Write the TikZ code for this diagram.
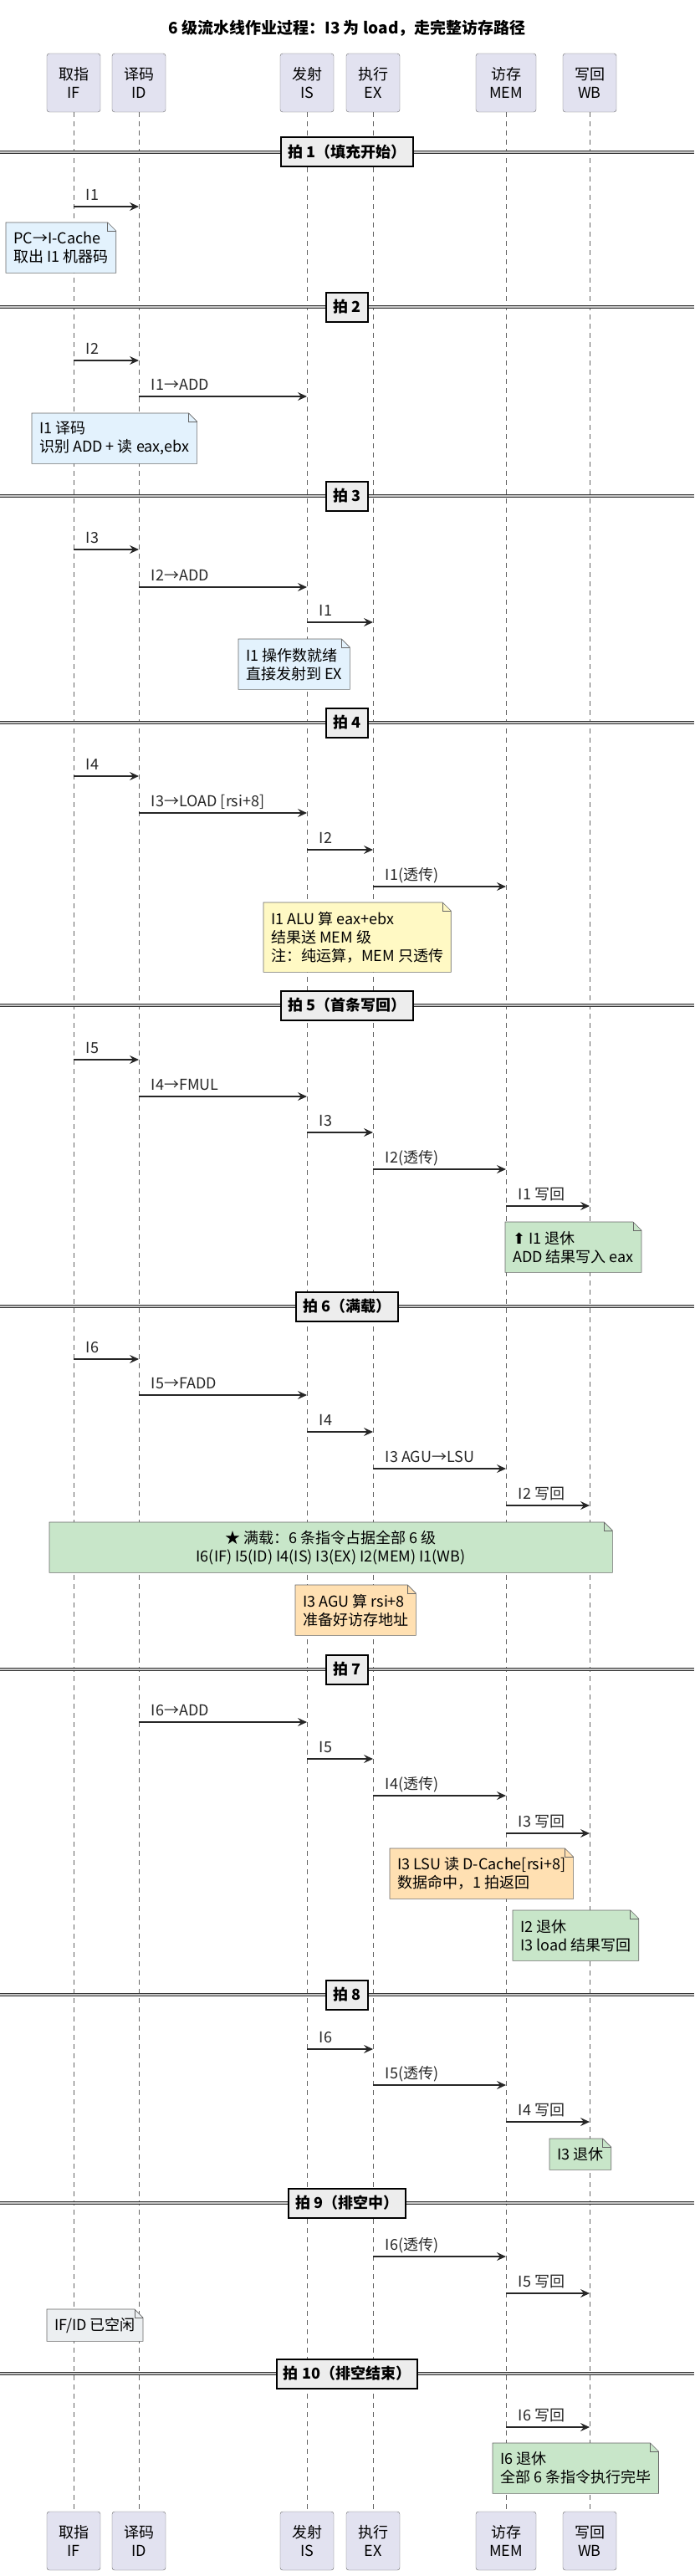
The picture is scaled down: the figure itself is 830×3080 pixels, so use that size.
\documentclass[tikz,border=0pt]{standalone}
\usepackage{fontspec}
\setmainfont{Noto Sans CJK SC}
\newfontfamily\symfont{DejaVu Sans}
\usetikzlibrary{arrows.meta, positioning, backgrounds}
\pgfdeclarelayer{lanes}
\pgfsetlayers{lanes,background,main}

\definecolor{stagefill}{HTML}{E2E2F0}
\definecolor{noteblue}{HTML}{E3F2FD}
\definecolor{noteyellow}{HTML}{FFF9C4}
\definecolor{notegreen}{HTML}{C8E6C9}
\definecolor{noteorange}{HTML}{FFE0B2}
\definecolor{notegray}{HTML}{ECEFF1}

\newcommand\lblfont{\fontsize{18}{22}\selectfont}

% message from one stage to the next
\newcommand\msg[4]{\draw[msg] (#1.south |- 0,#3) -- (#2.south |- 0,#3) node[msglabel, pos=0] {#4};}
% beat divider
\newcommand\beat[3]{\draw[divider] (0,#1) -- (830,#1); \node[beatbox] (#2) at (415,#1) {#3};}
% folded outline behind a note
\newcommand\foldnote[2]{%
  \begin{scope}[on background layer]
    \draw[notepen, fill=#2] (#1.south west) -- (#1.north west) -- ([xshift=-10pt]#1.north east)
      -- ([yshift=-10pt]#1.north east) -- (#1.south east) -- cycle;
    \draw[notepen] ([xshift=-10pt]#1.north east) |- ([yshift=-10pt]#1.north east);
  \end{scope}}

\begin{document}
\begin{tikzpicture}[
    x=1pt, y=-1pt,
    % Node styles
    stage/.style={
        rectangle,
        rounded corners=3pt,
        draw=black!60,
        fill=stagefill,
        minimum height=70,
        align=center,
        font=\lblfont
    },
    beatbox/.style={
        rectangle,
        draw=black,
        line width=2pt,
        fill=black!7,
        minimum height=35,
        inner xsep=8pt,
        font=\lblfont\bfseries
    },
    note/.style={
        anchor=north west,
        align=left,
        inner xsep=9pt,
        inner ysep=5pt,
        minimum height=60,
        font=\lblfont
    },
    notepen/.style={draw=black!60, line width=0.6pt},
    msglabel/.style={anchor=base west, xshift=11pt, yshift=8pt, font=\lblfont},
    msg/.style={
        -{Stealth[length=11pt, width=10pt, inset=4pt]},
        line width=1.2pt,
        black!85
    },
    divider/.style={
        draw=black!80,
        line width=0.8pt,
        double=gray!45,
        double distance=2.2pt
    },
    lifeline/.style={draw=black!60, line width=0.6pt, dash pattern=on 6pt off 5pt}
]
\useasboundingbox (0,0) rectangle (830,3080);

% === Title ===
\node[font=\fontsize{19}{22}\selectfont\bfseries] (title) at (415,34) {6 级流水线作业过程：I3 为 load，走完整访存路径};

% === Stages (top and bottom) ===
\foreach \s/\x/\w/\zh in {IF/88/64/取指, ID/166/64/译码, IS/367/64/发射, EX/446/64/执行, MEM/605/72/访存, WB/705/64/写回} {
    \node[stage, minimum width=\w] (\s) at (\x,99) {\zh\\\s};
    \node[stage, minimum width=\w] (\s-end) at (\x,3038) {\zh\\\s};
    \begin{pgfonlayer}{lanes}
        \draw[lifeline] (\s.south) -- (\s-end.north);
    \end{pgfonlayer}
}

% === Beat 1 ===
\beat{182}{beat1}{拍 1（填充开始）}
\msg{IF}{ID}{247}{I1}
\node[note] (fetch1) at (7,266) {PC→I-Cache\\取出 I1 机器码};
\foldnote{fetch1}{noteblue}

% === Beat 2 ===
\beat{367}{beat2}{拍 2}
\msg{IF}{ID}{431}{I2}
\msg{ID}{IS}{474}{I1→ADD}
\node[note] (decode1) at (38,494) {I1 译码\\识别 ADD + 读 eax,ebx};
\foldnote{decode1}{noteblue}

% === Beat 3 ===
\beat{593}{beat3}{拍 3}
\msg{IF}{ID}{657}{I3}
\msg{ID}{IS}{702}{I2→ADD}
\msg{IS}{EX}{744}{I1}
\node[note] (issue1) at (285,764) {I1 操作数就绪\\直接发射到 EX};
\foldnote{issue1}{noteblue}

% === Beat 4 ===
\beat{864}{beat4}{拍 4}
\msg{IF}{ID}{928}{I4}
\msg{ID}{IS}{972}{I3→LOAD [rsi+8]}
\msg{IS}{EX}{1016}{I2}
\msg{EX}{MEM}{1060}{I1(透传)}
\node[note, minimum height=83] (alu1) at (315,1079) {I1 ALU 算 eax+ebx\\结果送 MEM 级\\注：纯运算，MEM 只透传};
\foldnote{alu1}{noteyellow}

% === Beat 5 ===
\beat{1202}{beat5}{拍 5（首条写回）}
\msg{IF}{ID}{1267}{I5}
\msg{ID}{IS}{1311}{I4→FMUL}
\msg{IS}{EX}{1354}{I3}
\msg{EX}{MEM}{1398}{I2(透传)}
\msg{MEM}{WB}{1442}{I1 写回}
\node[note] (retire1) at (604,1461) {{\symfont ⬆} I1 退休\\ADD 结果写入 eax};
\foldnote{retire1}{notegreen}

% === Beat 6 ===
\beat{1562}{beat6}{拍 6（满载）}
\msg{IF}{ID}{1625}{I6}
\msg{ID}{IS}{1668}{I5→FADD}
\msg{IS}{EX}{1712}{I4}
\msg{EX}{MEM}{1756}{I3 AGU→LSU}
\msg{MEM}{WB}{1800}{I2 写回}
\node[note, minimum width=673, align=center] (full) at (59,1820) {★ 满载：6 条指令占据全部 6 级\\I6(IF) I5(ID) I4(IS) I3(EX) I2(MEM) I1(WB)};
\foldnote{full}{notegreen}
\node[note] (agu3) at (353,1895) {I3 AGU 算 rsi+8\\准备好访存地址};
\foldnote{agu3}{noteorange}

% === Beat 7 ===
\beat{1996}{beat7}{拍 7}
\msg{ID}{IS}{2059}{I6→ADD}
\msg{IS}{EX}{2103}{I5}
\msg{EX}{MEM}{2147}{I4(透传)}
\msg{MEM}{WB}{2192}{I3 写回}
\node[note] (lsu3) at (466,2210) {I3 LSU 读 D-Cache[rsi+8]\\数据命中，1 拍返回};
\foldnote{lsu3}{noteorange}
\node[note] (retire2) at (613,2284) {I2 退休\\I3 load 结果写回};
\foldnote{retire2}{notegreen}

% === Beat 8 ===
\beat{2385}{beat8}{拍 8}
\msg{IS}{EX}{2450}{I6}
\msg{EX}{MEM}{2493}{I5(透传)}
\msg{MEM}{WB}{2537}{I4 写回}
\node[note, minimum height=37] (retire3) at (657,2557) {I3 退休};
\foldnote{retire3}{notegreen}

% === Beat 9 ===
\beat{2634}{beat9}{拍 9（排空中）}
\msg{EX}{MEM}{2698}{I6(透传)}
\msg{MEM}{WB}{2742}{I5 写回}
\node[note, minimum height=38] (idle) at (56,2761) {IF/ID 已空闲};
\foldnote{idle}{notegray}

% === Beat 10 ===
\beat{2838}{beat10}{拍 10（排空结束）}
\msg{MEM}{WB}{2902}{I6 写回}
\node[note] (retire6) at (589,2921) {I6 退休\\全部 6 条指令执行完毕};
\foldnote{retire6}{notegreen}

\end{tikzpicture}
\end{document}
